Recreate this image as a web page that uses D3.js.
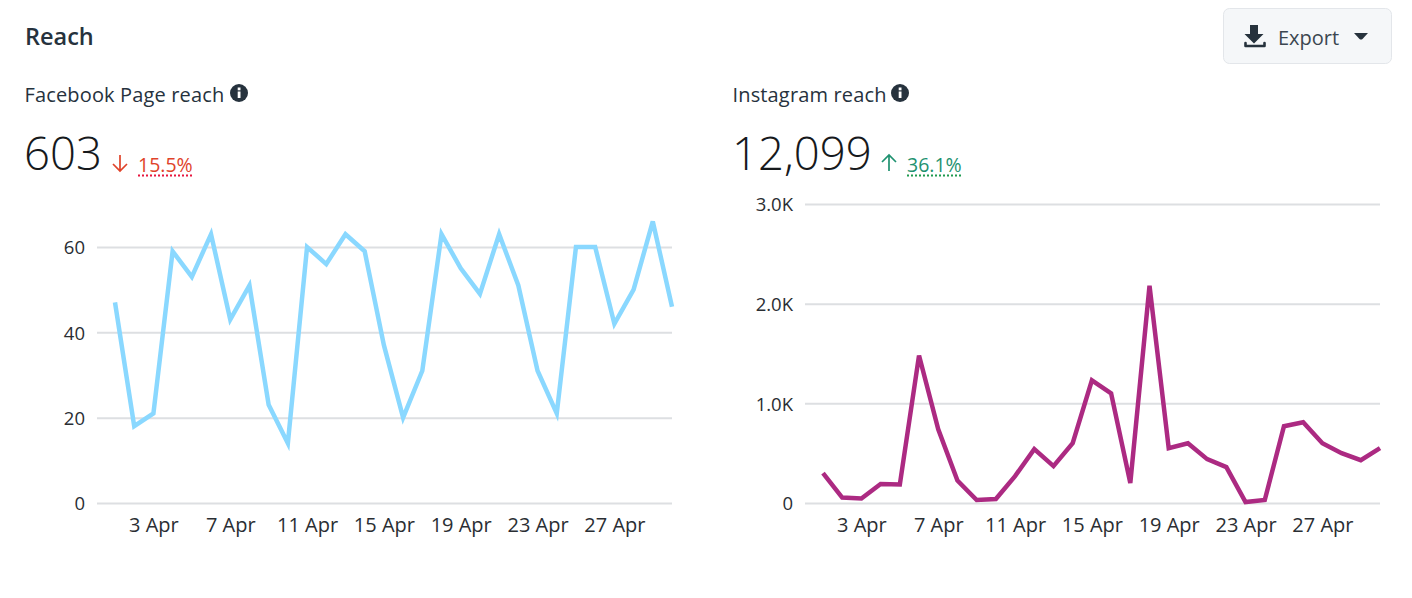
<!DOCTYPE html>
<html><head><meta charset="utf-8">
<script src="https://d3js.org/d3.v7.min.js"></script>
<style>
html,body{margin:0;padding:0;background:#fff}
svg{display:block}
text{font-family:"Open Sans","Noto Sans",sans-serif}
.tick line{stroke:#dddfe2;stroke-width:2}
.domain{display:none}
.tick text{fill:#2a2e33;font-weight:400}
.ytick .tick text{font-size:18.5px}
.xtick .tick text{font-size:20px}
</style></head><body>
<svg id="c" width="1412" height="598"></svg>
<script>
const days = d3.range(1,31);
const xTickDays = [3,7,11,15,19,23,27];
const fbValues = [47,18,21,59,53,63,43,51,23,14,60,56,63,59,37,20,31,63,55,49,63,51,31,21,60,60,42,50,66,46];
const igValues = [300,55,45,190,185,1480,740,225,30,40,270,540,370,600,1230,1100,200,2180,550,600,440,360,10,30,770,810,600,500,430,550];
const fbTicks = [0,20,40,60];
const igTicks = [0,1000,2000,3000];
const igLabels = ["0","1.0K","2.0K","3.0K"];

const svg = d3.select("#c");
const dark = "#26323d";
function label(x,y,t,size,weight,fill){
  return svg.append("text").attr("x",x).attr("y",y).attr("font-size",size).attr("font-weight",weight).attr("fill",fill).text(t);
}
label(25,45,"Reach",23.5,600,dark);

function info(cx,cy){
  svg.append("circle").attr("cx",cx).attr("cy",cy).attr("r",9).attr("fill",dark);
  svg.append("rect").attr("x",cx-1.3).attr("y",cy-1.5).attr("width",2.8).attr("height",6.5).attr("fill","#fff");
  svg.append("rect").attr("x",cx-1.3).attr("y",cy-5.5).attr("width",2.8).attr("height",2.8).attr("fill","#fff");
}
function arrow(x,y,down,color){
  const d = down ? `M${x} ${y-8}V${y+8}M${x-7} ${y+1}L${x} ${y+8}L${x+7} ${y+1}` : `M${x} ${y+8}V${y-8}M${x-7} ${y-1}L${x} ${y-8}L${x+7} ${y-1}`;
  svg.append("path").attr("d",d).attr("fill","none").attr("stroke",color).attr("stroke-width",1.7);
}
function panel(o){
  label(o.left-0.5,102,o.title,20,400,dark).attr("letter-spacing",0.15);
  info(o.info,93);
  label(o.left-1,170,o.value,45.5,300,"#16191c");
  arrow(o.arrow,163,o.down,o.color);
  label(o.pct,172,o.change,19.5,400,o.color);
  svg.append("line").attr("x1",o.pct).attr("x2",o.pct+55).attr("y1",175.5).attr("y2",175.5)
    .attr("stroke",o.dot).attr("stroke-width",2).attr("stroke-dasharray","2 2");
  const x = d3.scaleLinear().domain([1,30]).range([o.x0,o.x1]);
  const y = d3.scaleLinear().domain(o.domain).range([503,o.yTop]);
  const g = svg.append("g");
  g.append("g").attr("class","ytick").attr("transform",`translate(${o.gridL},0)`)
    .call(d3.axisLeft(y).tickValues(o.ticks).tickSize(-(o.x1-o.gridL)).tickPadding(12).tickFormat((d,i)=>o.labels[i]))
    .call(s=>s.selectAll("text").attr("dy","0.36em"));
  g.append("g").attr("class","xtick").attr("transform","translate(0,503)")
    .call(d3.axisBottom(x).tickValues(xTickDays).tickSize(0).tickPadding(15).tickFormat(d=>d+" Apr"))
    .call(s=>s.selectAll(".tick text").attr("dy","0.71em"));
  const line = d3.line().x((d,i)=>x(days[i])).y(d=>y(d));
  svg.append("path").datum(o.values).attr("d",line).attr("fill","none")
    .attr("stroke",o.stroke).attr("stroke-width",4.5).attr("stroke-linejoin","miter").attr("stroke-linecap","butt");
}
panel({left:25,title:"Facebook Page reach",info:239,value:"603",arrow:120,down:true,color:"#e0432a",dot:"#e8173f",pct:138,change:"15.5%",
  x0:115,x1:672,gridL:97,domain:[0,60],yTop:247,ticks:fbTicks,labels:fbTicks.map(String),values:fbValues,stroke:"#8ad8ff"});
panel({left:733,title:"Instagram reach",info:900,value:"12,099",arrow:889,down:false,color:"#1f9270",dot:"#1f9a4f",pct:907,change:"36.1%",
  x0:823,x1:1380,gridL:805,domain:[0,3000],yTop:204,ticks:igTicks,labels:igLabels,values:igValues,stroke:"#ac2a82"});

// Export button
svg.append("rect").attr("x",1223.5).attr("y",8.5).attr("width",168).attr("height",55).attr("rx",6)
  .attr("fill","#f5f7f9").attr("stroke","#e3e6ea");
svg.append("path").attr("fill",dark).attr("d","M1250 25h8v9h5.500l-9.500 9.500l-9.500-9.500h5.500z");
svg.append("path").attr("fill","none").attr("stroke",dark).attr("stroke-width",2.6).attr("stroke-linecap","round").attr("stroke-linejoin","round")
  .attr("d","M1245.5 43v3h19v-3");
label(1278,45,"Export",20,400,"#3b4650");
svg.append("path").attr("fill",dark).attr("d","M1354 33h14l-5.500 6q-1.500 1.200-3 0z");
</script>
</body></html>
